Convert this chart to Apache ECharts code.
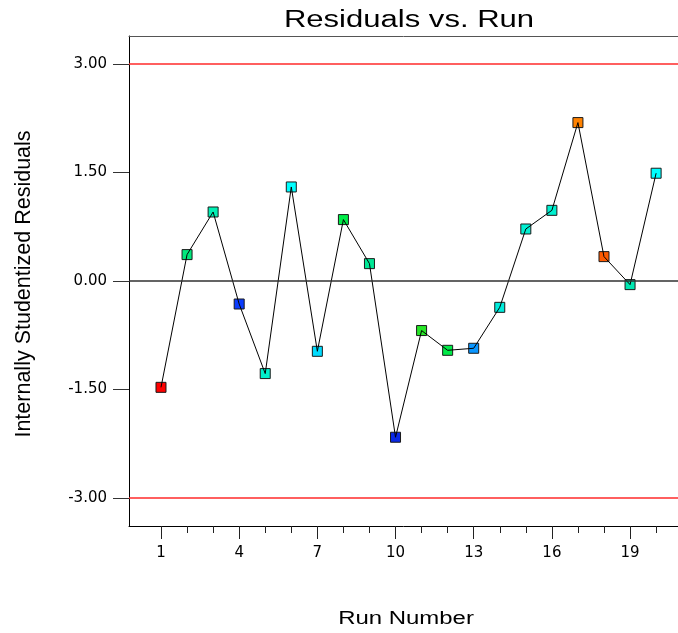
<!DOCTYPE html>
<html>
<head>
<meta charset="utf-8">
<title>Residuals vs. Run</title>
<script src="https://cdn.jsdelivr.net/npm/echarts@6/dist/echarts.min.js"></script>
<style>
  html, body { margin: 0; padding: 0; background: #fff; overflow: hidden; }
  #chart { width: 678px; height: 633px; }
</style>
</head>
<body>
<div id="chart"></div>
<script>
// Run order and internally studentized residual for each run
const runs = [1, 2, 3, 4, 5, 6, 7, 8, 9, 10, 11, 12, 13, 14, 15, 16, 17, 18, 19, 20];
const residuals = [-1.47, 0.365, 0.954, -0.318, -1.28, 1.30, -0.972, 0.849, 0.24, -2.16,
                   -0.685, -0.958, -0.93, -0.364, 0.719, 0.977, 2.19, 0.337, -0.05, 1.49];
// Point colours (colour-coded by response level)
const pointColors = ['#ff0000', '#00e87c', '#00f0b4', '#0a3cff', '#00f0cc', '#00ffff', '#00dcff',
                     '#00ee48', '#00e896', '#0a28e6', '#28e628', '#00ea46', '#0a96ff', '#00ecdc',
                     '#00f0d2', '#00f0d0', '#ff8200', '#ff5a00', '#00e8b2', '#00ffff'];

// Tick positions
const yTicks = [-3, -1.5, 0, 1.5, 3];
const xMajorTicks = [1, 4, 7, 10, 13, 16, 19];
const xMinorTicks = [2, 3, 5, 6, 8, 9, 11, 12, 14, 15, 17, 18, 20];

// Reference lines: control limits and zero
const limitLines = [3, -3];
const centerLine = 0;

// Axis ranges (the plot frame runs on to the right edge)
const xMin = -0.228, xMax = 20.84;
const yMin = -3.387, yMax = 3.387;

const chart = echarts.init(document.getElementById('chart'), null, { renderer: 'canvas' });

const tickFont = 'DejaVu Sans';

chart.setOption({
  animation: false,
  backgroundColor: '#ffffff',
  grid: { left: 129, top: 36, width: 549, height: 490, show: false },
  xAxis: [
    {
      type: 'value', min: xMin, max: xMax, position: 'bottom',
      axisLine: { show: true, onZero: false, lineStyle: { color: '#000', width: 1 } },
      axisTick: { show: true, customValues: xMajorTicks, length: 13, lineStyle: { color: '#222', width: 1 } },
      axisLabel: { show: true, customValues: xMajorTicks, margin: 20, fontFamily: tickFont, fontSize: 15, color: '#000' },
      splitLine: { show: false }
    },
    {
      type: 'value', min: xMin, max: xMax, position: 'bottom',
      axisLine: { show: false, onZero: false },
      axisTick: { show: true, customValues: xMinorTicks, length: 7, lineStyle: { color: '#222', width: 1 } },
      axisLabel: { show: false },
      splitLine: { show: false }
    },
    {
      // top frame line
      type: 'value', min: xMin, max: xMax, position: 'top',
      axisLine: { show: true, onZero: false, lineStyle: { color: '#555', width: 1 } },
      axisTick: { show: false }, axisLabel: { show: false }, splitLine: { show: false }
    }
  ],
  yAxis: {
    type: 'value', min: yMin, max: yMax,
    axisLine: { show: true, onZero: false, lineStyle: { color: '#000', width: 1 } },
    axisTick: { show: true, customValues: yTicks, length: 16, lineStyle: { color: '#333', width: 1 } },
    axisLabel: {
      show: true, customValues: yTicks, margin: 22, fontFamily: tickFont, fontSize: 15, color: '#000',
      formatter: v => Number(v).toFixed(2)
    },
    splitLine: { show: false }
  },
  graphic: [
    {
      type: 'text', x: 409, y: 21, scaleX: 1.35, silent: true,
      style: { text: 'Residuals vs. Run', font: '23px "Liberation Sans"', fill: '#000',
               textAlign: 'center', textVerticalAlign: 'middle' }
    },
    {
      type: 'text', x: 406, y: 619, scaleX: 1.33, silent: true,
      style: { text: 'Run Number', font: '18px "Liberation Sans"', fill: '#000',
               textAlign: 'center', textVerticalAlign: 'middle' }
    },
    {
      type: 'text', x: 24, y: 284, rotation: Math.PI / 2, silent: true,
      style: { text: 'Internally Studentized Residuals', font: '21.5px "Liberation Sans"', fill: '#000',
               textAlign: 'center', textVerticalAlign: 'middle' }
    }
  ],
  series: [
    {
      // reference lines
      type: 'line', data: [], z: 1, silent: true,
      markLine: {
        silent: true, symbol: ['none', 'none'], label: { show: false },
        data: [
          ...limitLines.map(v => ({ yAxis: v, lineStyle: { color: '#ff2a2a', width: 1.5, type: 'solid' } })),
          { yAxis: centerLine, lineStyle: { color: '#303030', width: 1.5, type: 'solid' } }
        ]
      }
    },
    {
      // run-order markers
      type: 'scatter', z: 2, symbol: 'rect', symbolSize: 10,
      data: runs.map((r, i) => ({ value: [r, residuals[i]], itemStyle: { color: pointColors[i] } })),
      itemStyle: { borderColor: '#1a1a1a', borderWidth: 1, opacity: 1 }
    },
    {
      // connecting line, drawn over the markers
      type: 'line', z: 3, symbol: 'none', silent: true,
      data: runs.map((r, i) => [r, residuals[i]]),
      lineStyle: { color: '#000', width: 1 }
    }
  ]
});
</script>
</body>
</html>
